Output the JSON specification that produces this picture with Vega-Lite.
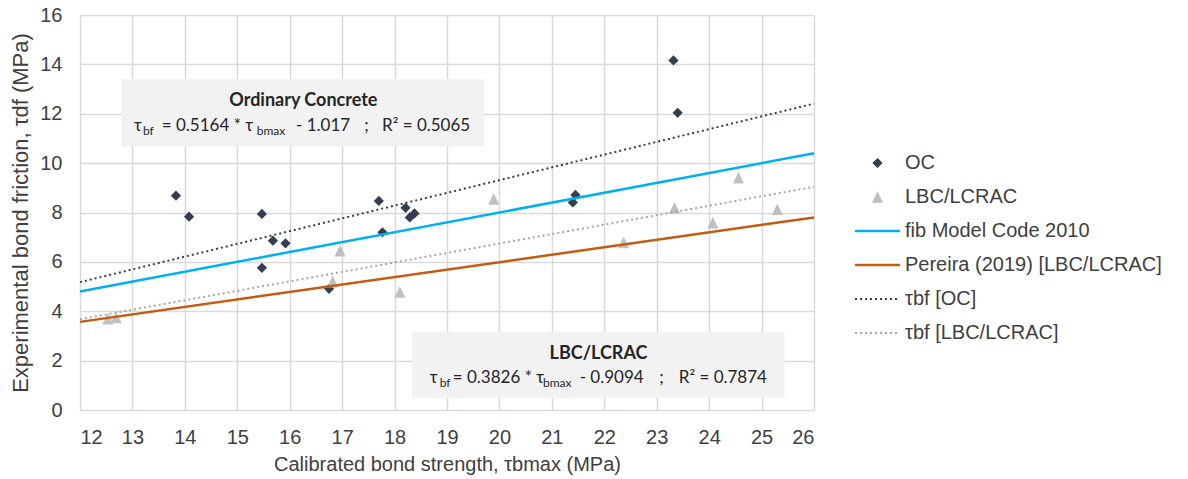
{
  "$schema": "https://vega.github.io/schema/vega-lite/v6.json",
  "width": 734,
  "height": 395,
  "autosize": {"type": "none"},
  "padding": {"left": 80, "top": 15, "right": 374, "bottom": 69},
  "background": "white",
  "config": {
    "view": {"stroke": null},
    "axis": {
      "gridColor": "#D9D9D9",
      "gridWidth": 1.5,
      "domain": false,
      "ticks": false,
      "labelFont": "Liberation Sans",
      "labelFontSize": 20,
      "labelColor": "#404040",
      "titleFont": "Liberation Sans",
      "titleFontSize": 21,
      "titleFontWeight": "normal",
      "titleColor": "#404040"
    },
    "legend": {
      "orient": "none",
      "legendX": 787.5,
      "legendY": 138,
      "title": null,
      "padding": 0,
      "labelFont": "Liberation Sans",
      "labelFontSize": 20,
      "labelColor": "#404040",
      "labelLimit": 500,
      "symbolSize": 256,
      "symbolOffset": 0,
      "labelOffset": 17.5,
      "rowPadding": 14,
      "symbolOpacity": 1
    }
  },
  "datasets": {
    "points": [
      {"series": "OC", "x": 13.83, "y": 8.68},
      {"series": "OC", "x": 14.08, "y": 7.83},
      {"series": "OC", "x": 15.47, "y": 7.94},
      {"series": "OC", "x": 15.47, "y": 5.76},
      {"series": "OC", "x": 15.68, "y": 6.86},
      {"series": "OC", "x": 15.92, "y": 6.75},
      {"series": "OC", "x": 16.75, "y": 4.91},
      {"series": "OC", "x": 17.70, "y": 8.47},
      {"series": "OC", "x": 17.77, "y": 7.20},
      {"series": "OC", "x": 18.21, "y": 8.19},
      {"series": "OC", "x": 18.29, "y": 7.80},
      {"series": "OC", "x": 18.38, "y": 7.96},
      {"series": "OC", "x": 21.40, "y": 8.41},
      {"series": "OC", "x": 21.45, "y": 8.71},
      {"series": "OC", "x": 23.32, "y": 14.16},
      {"series": "OC", "x": 23.40, "y": 12.04},
      {"series": "LBC/LCRAC", "x": 12.53, "y": 3.70},
      {"series": "LBC/LCRAC", "x": 12.69, "y": 3.75},
      {"series": "LBC/LCRAC", "x": 16.82, "y": 5.20},
      {"series": "LBC/LCRAC", "x": 16.96, "y": 6.45},
      {"series": "LBC/LCRAC", "x": 18.10, "y": 4.78},
      {"series": "LBC/LCRAC", "x": 19.89, "y": 8.55},
      {"series": "LBC/LCRAC", "x": 22.37, "y": 6.79},
      {"series": "LBC/LCRAC", "x": 23.34, "y": 8.19},
      {"series": "LBC/LCRAC", "x": 24.07, "y": 7.59},
      {"series": "LBC/LCRAC", "x": 24.56, "y": 9.41},
      {"series": "LBC/LCRAC", "x": 25.30, "y": 8.13}
    ],
    "lines": [
      {"series": "fib Model Code 2010", "kind": "solid", "x": 12, "y": 4.8},
      {"series": "fib Model Code 2010", "kind": "solid", "x": 26, "y": 10.4},
      {"series": "Pereira (2019) [LBC/LCRAC]", "kind": "solid", "x": 12, "y": 3.57},
      {"series": "Pereira (2019) [LBC/LCRAC]", "kind": "solid", "x": 26, "y": 7.8},
      {"series": "τbf [OC]", "kind": "dotted", "x": 12, "y": 5.18},
      {"series": "τbf [OC]", "kind": "dotted", "x": 26, "y": 12.41},
      {"series": "τbf [LBC/LCRAC]", "kind": "dotted", "x": 12, "y": 3.68},
      {"series": "τbf [LBC/LCRAC]", "kind": "dotted", "x": 26, "y": 9.04}
    ],
    "boxes": [
      {"x1": 12.79, "x2": 19.71, "y1": 10.66, "y2": 13.41},
      {"x1": 18.33, "x2": 25.44, "y1": 0.50, "y2": 3.15}
    ],
    "titles": [
      {"x": 16.26, "y": 12.51, "text": "Ordinary Concrete"},
      {"x": 21.89, "y": 2.27, "text": "LBC/LCRAC"}
    ],
    "eqMain": [
      {"x": 13.03, "y": 11.5, "text": "τ"},
      {"x": 13.56, "y": 11.5, "text": "= 0.5164 * τ"},
      {"x": 16.12, "y": 11.5, "text": "- 1.017"},
      {"x": 17.42, "y": 11.5, "text": ";"},
      {"x": 17.76, "y": 11.5, "text": "R² = 0.5065"},
      {"x": 18.67, "y": 1.3, "text": "τ"},
      {"x": 19.11, "y": 1.3, "text": "= 0.3826 * τ"},
      {"x": 21.53, "y": 1.3, "text": "- 0.9094"},
      {"x": 23.05, "y": 1.3, "text": ";"},
      {"x": 23.42, "y": 1.3, "text": "R² = 0.7874"}
    ],
    "eqSub": [
      {"x": 13.2, "y": 11.5, "text": "bf"},
      {"x": 15.37, "y": 11.5, "text": "bmax"},
      {"x": 18.86, "y": 1.3, "text": "bf"},
      {"x": 20.83, "y": 1.3, "text": "bmax"}
    ]
  },
  "layer": [
    {
      "data": {"name": "boxes"},
      "mark": {"type": "rect", "fill": "#F2F2F2"},
      "encoding": {
        "x": {
          "field": "x1", "type": "quantitative",
          "scale": {"domain": [12, 26], "nice": false, "zero": false},
          "axis": {"values": [12,13,14,15,16,17,18,19,20,21,22,23,24,25,26], "labelPadding": 17, "titlePadding": 7, "titleFontSize": 20, "title": "Calibrated bond strength, τbmax (MPa)"}
        },
        "x2": {"field": "x2"},
        "y": {
          "field": "y1", "type": "quantitative",
          "scale": {"domain": [0, 16], "nice": false},
          "axis": {"values": [0,2,4,6,8,10,12,14,16], "labelPadding": 18, "titlePadding": 7, "titleFontSize": 22, "title": "Experimental bond friction, τdf (MPa)"}
        },
        "y2": {"field": "y2"}
      }
    },
    {
      "data": {"name": "points"},
      "mark": {"type": "point", "size": 256, "filled": true, "opacity": 1, "strokeWidth": 0},
      "encoding": {
        "x": {"field": "x", "type": "quantitative"},
        "y": {"field": "y", "type": "quantitative"},
        "color": {
          "field": "series", "type": "nominal",
          "scale": {
            "domain": ["OC", "LBC/LCRAC", "fib Model Code 2010", "Pereira (2019) [LBC/LCRAC]", "τbf [OC]", "τbf [LBC/LCRAC]"],
            "range": ["#333F50", "#BFBFBF", "#00B0F0", "#C55A11", "#333F50", "#A6A6A6"]
          }
        },
        "shape": {
          "field": "series", "type": "nominal",
          "scale": {
            "domain": ["OC", "LBC/LCRAC", "fib Model Code 2010", "Pereira (2019) [LBC/LCRAC]", "τbf [OC]", "τbf [LBC/LCRAC]"],
            "range": [
              "M-0.64,0L0,-0.64L0.64,0L0,0.64Z",
              "M0,-0.72L0.69,0.72L-0.69,0.72Z",
              "M-2.81,-0.16L2.81,-0.16L2.81,0.16L-2.81,0.16Z",
              "M-2.81,-0.16L2.81,-0.16L2.81,0.16L-2.81,0.16Z",
              "M-2.81,-0.125L-2.56,-0.125L-2.56,0.125L-2.81,0.125ZM-2.185,-0.125L-1.935,-0.125L-1.935,0.125L-2.185,0.125ZM-1.56,-0.125L-1.31,-0.125L-1.31,0.125L-1.56,0.125ZM-0.935,-0.125L-0.685,-0.125L-0.685,0.125L-0.935,0.125ZM-0.31,-0.125L-0.06,-0.125L-0.06,0.125L-0.31,0.125ZM0.315,-0.125L0.565,-0.125L0.565,0.125L0.315,0.125ZM0.94,-0.125L1.19,-0.125L1.19,0.125L0.94,0.125ZM1.565,-0.125L1.815,-0.125L1.815,0.125L1.565,0.125ZM2.19,-0.125L2.44,-0.125L2.44,0.125L2.19,0.125Z",
              "M-2.81,-0.125L-2.56,-0.125L-2.56,0.125L-2.81,0.125ZM-2.185,-0.125L-1.935,-0.125L-1.935,0.125L-2.185,0.125ZM-1.56,-0.125L-1.31,-0.125L-1.31,0.125L-1.56,0.125ZM-0.935,-0.125L-0.685,-0.125L-0.685,0.125L-0.935,0.125ZM-0.31,-0.125L-0.06,-0.125L-0.06,0.125L-0.31,0.125ZM0.315,-0.125L0.565,-0.125L0.565,0.125L0.315,0.125ZM0.94,-0.125L1.19,-0.125L1.19,0.125L0.94,0.125ZM1.565,-0.125L1.815,-0.125L1.815,0.125L1.565,0.125ZM2.19,-0.125L2.44,-0.125L2.44,0.125L2.19,0.125Z"
            ]
          }
        }
      }
    },
    {
      "data": {"name": "lines"},
      "transform": [{"filter": "datum.kind === 'solid'"}],
      "mark": {"type": "line", "strokeWidth": 2.5},
      "encoding": {
        "x": {"field": "x", "type": "quantitative"},
        "y": {"field": "y", "type": "quantitative"},
        "stroke": {
          "field": "series", "type": "nominal",
          "scale": {
            "domain": ["fib Model Code 2010", "Pereira (2019) [LBC/LCRAC]", "τbf [OC]", "τbf [LBC/LCRAC]"],
            "range": ["#00B0F0", "#C55A11", "#333F50", "#A6A6A6"]
          },
          "legend": null
        }
      }
    },
    {
      "data": {"name": "lines"},
      "transform": [{"filter": "datum.kind === 'dotted'"}],
      "mark": {"type": "line", "strokeWidth": 2, "strokeDash": [2, 3]},
      "encoding": {
        "x": {"field": "x", "type": "quantitative"},
        "y": {"field": "y", "type": "quantitative"},
        "stroke": {"field": "series", "type": "nominal", "legend": null}
      }
    },
    {
      "data": {"name": "titles"},
      "mark": {"type": "text", "font": "Lato", "fontSize": 18, "fontWeight": "bold", "color": "#262626", "align": "center", "baseline": "middle"},
      "encoding": {
        "x": {"field": "x", "type": "quantitative"},
        "y": {"field": "y", "type": "quantitative"},
        "text": {"field": "text"}
      }
    },
    {
      "data": {"name": "eqMain"},
      "mark": {"type": "text", "font": "Lato", "fontSize": 17, "color": "#262626", "align": "left", "baseline": "middle"},
      "encoding": {
        "x": {"field": "x", "type": "quantitative"},
        "y": {"field": "y", "type": "quantitative"},
        "text": {"field": "text"}
      }
    },
    {
      "data": {"name": "eqSub"},
      "mark": {"type": "text", "font": "Lato", "fontSize": 12, "color": "#262626", "align": "left", "baseline": "middle", "dy": 5},
      "encoding": {
        "x": {"field": "x", "type": "quantitative"},
        "y": {"field": "y", "type": "quantitative"},
        "text": {"field": "text"}
      }
    }
  ]
}
